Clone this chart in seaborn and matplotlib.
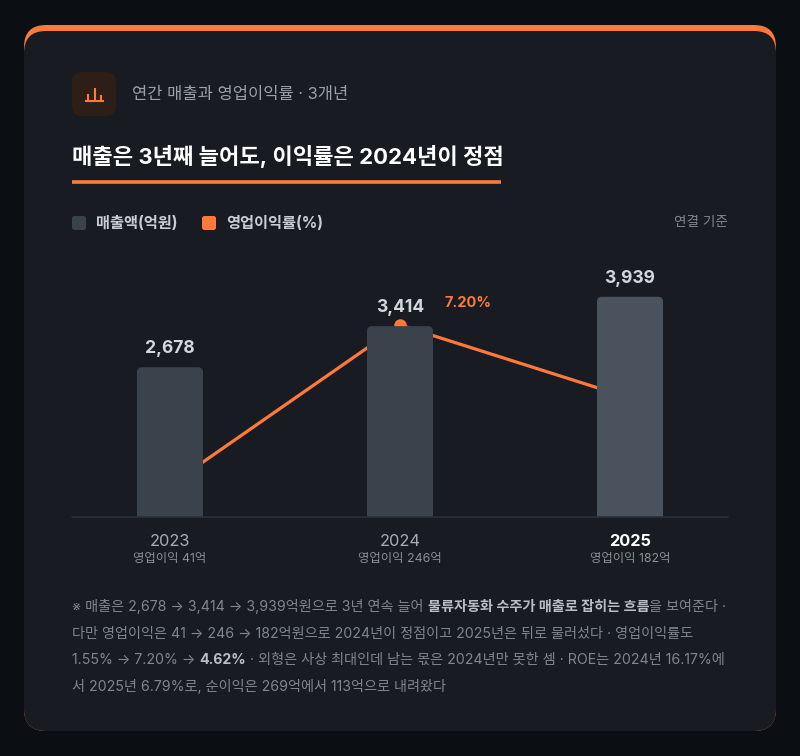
import matplotlib
matplotlib.use('Agg')
import matplotlib.pyplot as plt
import seaborn as sns
import pandas as pd
from matplotlib.patches import FancyBboxPatch

# ---------------- data ----------------
years = ['2023', '2024', '2025']
revenue = [2678, 3414, 3939]            # 매출액(억원)
op_margin = [1.55, 7.20, 4.62]          # 영업이익률(%)
op_income = [41, 246, 182]              # 영업이익(억)
revenue_labels = ['2,678', '3,414', '3,939']
highlight_margin_label = '7.20%'

subtitle = '연간 매출과 영업이익률 · 3개년'
title = '매출은 3년째 늘어도, 이익률은 2024년이 정점'
legend_labels = ['매출액(억원)', '영업이익률(%)']
basis_note = '연결 기준'
footnote_lines = [
    [('※ 매출은 2,678 → 3,414 → 3,939억원으로 3년 연속 늘어 ', False),
     ('물류자동화 수주가 매출로 잡히는 흐름', True),
     ('을 보여준다 ·', False)],
    [('다만 영업이익은 41 → 246 → 182억원으로 2024년이 정점이고 2025년은 뒤로 물러섰다 · 영업이익률도', False)],
    [('1.55% → 7.20% → ', False), ('4.62%', True),
     (' · 외형은 사상 최대인데 남는 몫은 2024년만 못한 셈 · ROE는 2024년 16.17%에', False)],
    [('서 2025년 6.79%로, 순이익은 269억에서 113억으로 내려왔다', False)],
]

# ---------------- style ----------------
sns.set_theme(style='white')
plt.rcParams['font.family'] = ['Inter', 'Noto Sans CJK KR', 'DejaVu Sans']
plt.rcParams['axes.unicode_minus'] = False

OUTER = '#0b0e12'
CARD = '#181c22'
ORANGE = '#ff7a3a'
BAR = '#3a424b'
BAR_HI = '#4a535d'
TXT_MAIN = '#ffffff'
TXT_SUB = '#9ba1a9'
TXT_DIM = '#80868e'

W, H = 800, 756
fig = plt.figure(figsize=(8, 7.56), dpi=100)
fig.patch.set_facecolor(OUTER)

bg = fig.add_axes([0, 0, 1, 1], zorder=0)
bg.set_xlim(0, W)
bg.set_ylim(H, 0)
bg.axis('off')

# card with orange top border
bg.add_patch(FancyBboxPatch((24, 25), 752, 706, boxstyle='round,pad=0,rounding_size=22',
                            fc=ORANGE, ec='none'))
bg.add_patch(FancyBboxPatch((24, 31), 752, 700, boxstyle='round,pad=0,rounding_size=22',
                            fc=CARD, ec='none'))

# icon
bg.add_patch(FancyBboxPatch((72, 72), 44, 44, boxstyle='round,pad=0,rounding_size=10',
                            fc='#2d1f17', ec='none'))
bg.plot([85, 104], [100.5, 100.5], color=ORANGE, lw=1.5, solid_capstyle='butt')
for bx, top in [(88, 93.5), (94.5, 88), (100.5, 94.5)]:
    bg.plot([bx, bx], [100.5, top], color=ORANGE, lw=1.5, solid_capstyle='butt')

# header texts
bg.text(132, 94, subtitle, color=TXT_SUB, fontsize=11.9, va='center', ha='left')
bg.text(72, 156, title, color=TXT_MAIN, fontsize=15.95, fontweight='bold', va='center', ha='left')
bg.plot([72, 501], [182, 182], color=ORANGE, lw=2.6, solid_capstyle='butt')

# legend
bg.add_patch(FancyBboxPatch((72, 216), 14, 14, boxstyle='round,pad=0,rounding_size=2.5',
                            fc=BAR, ec='none'))
bg.text(96, 223, legend_labels[0], color='#c9cdd3', fontsize=11, fontweight='bold', va='center')
bg.add_patch(FancyBboxPatch((202, 216), 14, 14, boxstyle='round,pad=0,rounding_size=2.5',
                            fc=ORANGE, ec='none'))
bg.text(226, 223, legend_labels[1], color='#c9cdd3', fontsize=11, fontweight='bold', va='center')
bg.text(728, 222, basis_note, color=TXT_DIM, fontsize=9.8, va='center', ha='right')

# ---------------- chart ----------------
df = pd.DataFrame({'year': years, 'revenue': revenue, 'margin': op_margin})

ax = fig.add_axes([72 / W, 1 - 517 / H, 656 / W, 257 / H], zorder=1)
ax.set_facecolor('none')
sns.lineplot(data=df, x='year', y='margin', ax=ax, color=ORANGE, lw=2.3,
             marker='o', markersize=9, markeredgewidth=0, sort=False)
ax2 = ax.twinx()
ax2.set_facecolor('none')
sns.barplot(data=df, x='year', y='revenue', hue='year', ax=ax2,
            palette=[BAR, BAR, BAR_HI], width=0.287, legend=False, saturation=1)

ax.set_ylim(0.42, 9.50)
ax2.set_ylim(0, 4597)
ax.set_xlim(-0.426, 2.426)
ax2.set_xlim(-0.426, 2.426)

# round the top corners of seaborn's bars
px_per_x = 656 / (2.426 + 0.426)
px_per_y = 257 / 4597
r_px = 5
for p in list(ax2.patches):
    x0, w, h = p.get_x(), p.get_width(), p.get_height()
    fc = p.get_facecolor()
    p.set_visible(False)
    rr = r_px / px_per_x
    ext = r_px / px_per_y * 1.5
    ax2.add_patch(FancyBboxPatch((x0, -ext), w, h + ext,
                                 boxstyle=f'round,pad=0,rounding_size={rr}',
                                 mutation_aspect=px_per_x / px_per_y,
                                 fc=fc, ec='none', zorder=2))

for a in (ax, ax2):
    for s in a.spines.values():
        s.set_visible(False)
    a.set_xticks([])
    a.set_yticks([])
    a.set_xlabel('')
    a.set_ylabel('')

ax2.axhline(0, color='#2b3139', lw=1.2, clip_on=False, zorder=3)

# value labels
for i, lab in enumerate(revenue_labels):
    ax2.annotate(lab, (i, revenue[i]), xytext=(0, 13.5), textcoords='offset points',
                 ha='center', va='center', color='#d3d7dc', fontsize=12.6, fontweight='bold')
imax = op_margin.index(max(op_margin))
ax.annotate(highlight_margin_label, (imax, op_margin[imax]), xytext=(49, 16),
            textcoords='offset points', ha='center', va='center', color=ORANGE,
            fontsize=10.5, fontweight='bold')

# x category labels
for i, (y, inc) in enumerate(zip(years, op_income)):
    last = i == len(years) - 1
    ax2.annotate(y, (i, 0), xycoords=('data', 'axes fraction'), xytext=(0, -17.5),
                 textcoords='offset points', ha='center', va='center',
                 color=TXT_MAIN if last else '#a7acb3', fontsize=11.8,
                 fontweight='bold' if last else 'normal')
    ax2.annotate(f'영업이익 {inc}억', (i, 0), xycoords=('data', 'axes fraction'),
                 xytext=(0, -30), textcoords='offset points', ha='center', va='center',
                 color='#8a9098', fontsize=8.9)

# ---------------- footnote ----------------
renderer = fig.canvas.get_renderer()
line_y = [607, 634, 660, 686]
for ly, runs in zip(line_y, footnote_lines):
    x = 72
    for text, bold in runs:
        t = bg.text(x, ly, text, color='#b9bec5' if bold else TXT_DIM, fontsize=10.2,
                    fontweight='bold' if bold else 'normal', va='center', ha='left')
        bb = t.get_window_extent(renderer=renderer)
        x += bb.width

fig.savefig('out.png', dpi=100, facecolor=fig.get_facecolor())
